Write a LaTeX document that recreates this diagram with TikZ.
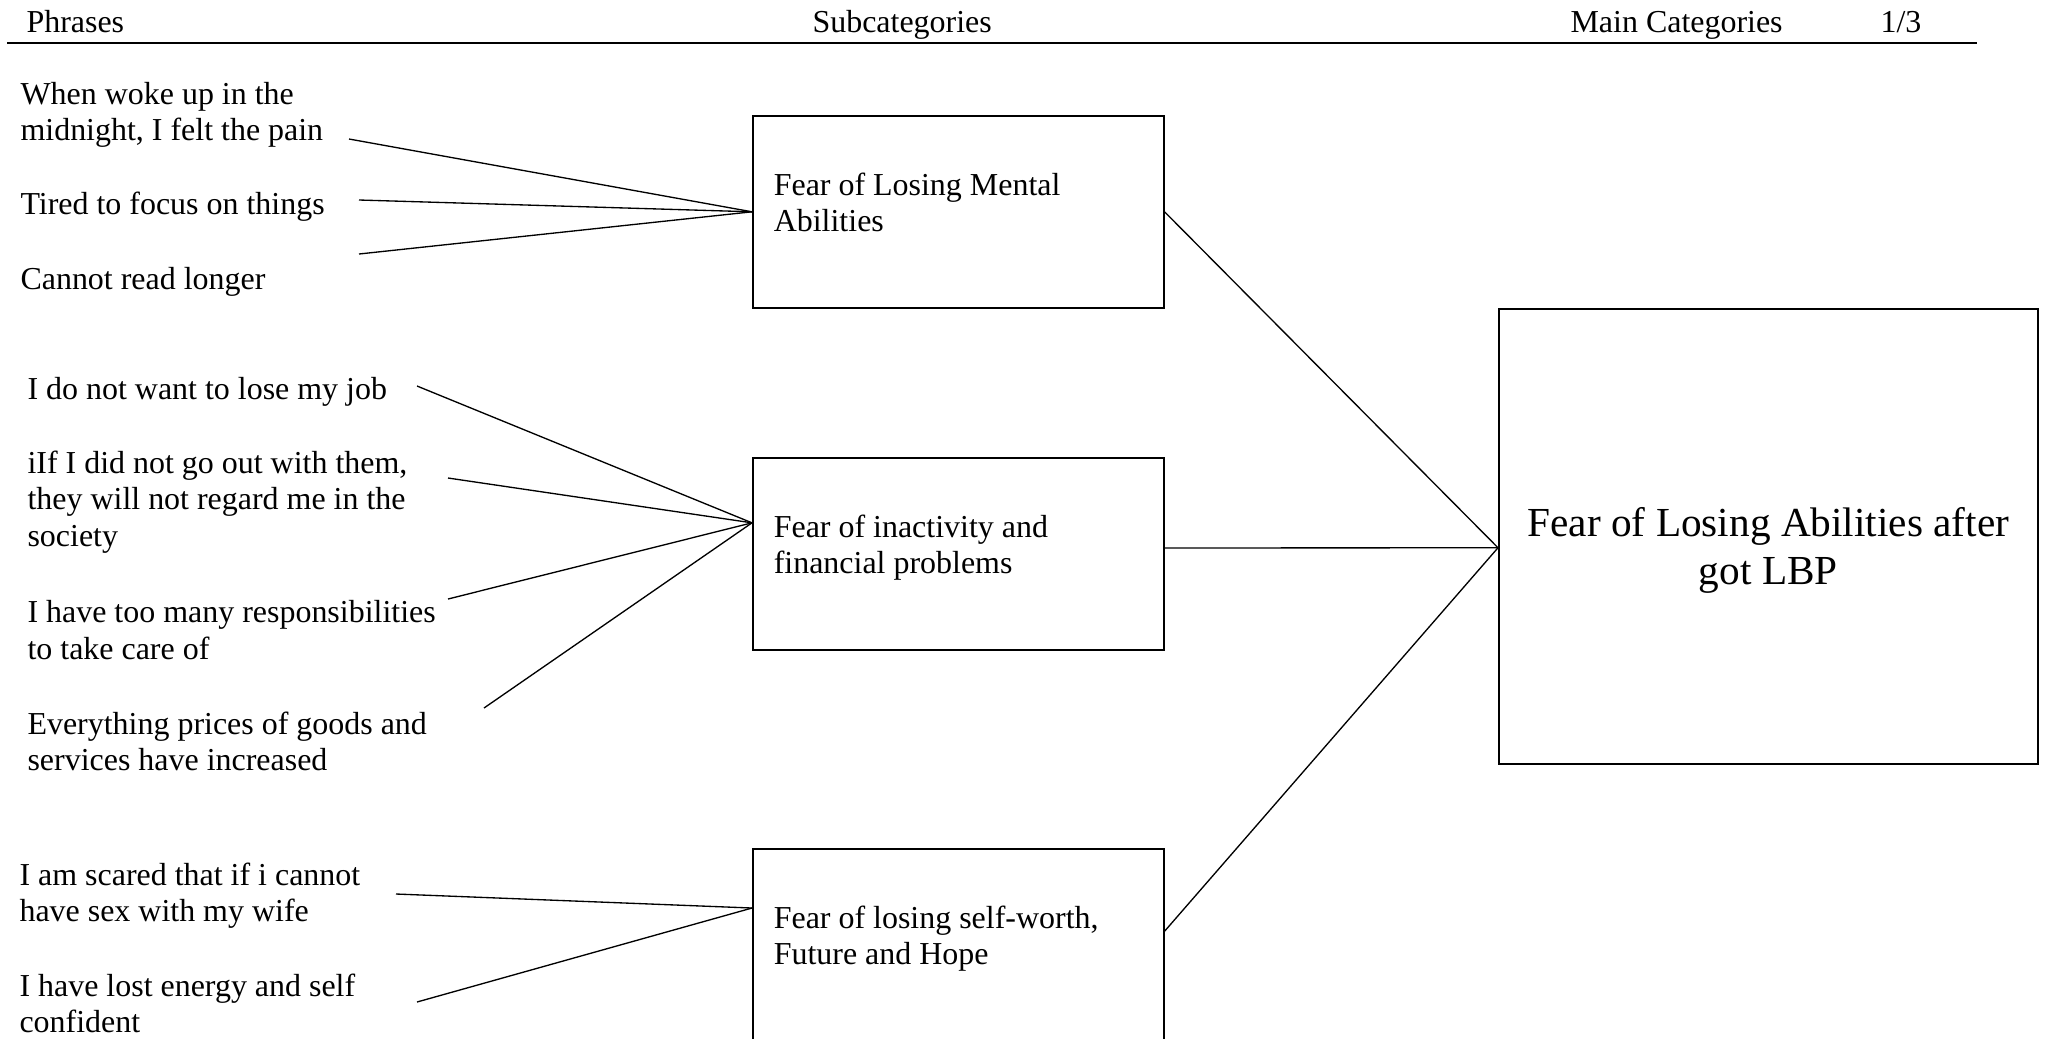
\documentclass[tikz,border=0pt]{standalone}
\usepackage{fontspec}
\setmainfont{Liberation Serif}
\usepackage{tikz}
\usetikzlibrary{positioning}
\usetikzlibrary{calc}
\hyphenpenalty=10000
\exhyphenpenalty=10000
\tikzstyle{heading}=[anchor=base west, inner sep=0pt,
  font=\fontsize{12}{13.6}\selectfont]
\tikzstyle{phrase}=[anchor=west, align=left, inner sep=0pt,
  font=\fontsize{12}{13.6}\selectfont]
\tikzstyle{subcat}=[rectangle, draw, line width=0.6pt, anchor=north west,
  text width=4.87cm, inner xsep=0.277cm, minimum height=2.534cm,
  text depth=21pt, align=flush left, font=\fontsize{12}{13.6}\selectfont]
\tikzstyle{maincat}=[rectangle, draw, line width=0.6pt, anchor=north west,
  minimum width=7.115cm, minimum height=6.006cm]
\tikzstyle{maintext}=[inner sep=0pt, align=center,
  font=\fontsize{15.5}{17.8}\selectfont]
\tikzstyle{link}=[line width=0.5pt]
\tikzstyle{rule}=[line width=0.7pt]

\begin{document}
\begin{tikzpicture}[x=0.0132cm, y=-0.0132cm]
\useasboundingbox (0,0) rectangle (2049,1038);

\node[heading] at (26,32) (hphr) {Phrases};
\node[heading] at (812,32) (hsub) {Subcategories};
\node[heading] at (1570,32) (hmain) {Main Categories};
\node[heading] at (1880,32) (hpage) {1/3};
\draw[rule] (7,43) -- (1977,43);

\node[subcat] at (752,115) (mental) {Fear of Losing Mental Abilities};
\node[subcat] at (752,457) (inactive) {Fear of inactivity and financial problems};
\node[subcat] at (752,848) (selfworth) {Fear of losing self-worth, Future and Hope};
\node[maincat] at (1498,308) (losing) {};
\node[maintext] at ($(losing.center)+(0,14)$) (losingtext) {Fear of Losing Abilities after\\got LBP};

\node[phrase] at (20,115) (woke) {When woke up in the\\midnight, I felt the pain};
\node[phrase] at (20,207) (tired) {Tired to focus on things};
\node[phrase] at (20,282) (cannot) {Cannot read longer};
\node[phrase] at (27,392) (job) {I do not want to lose my job};
\node[phrase] at (27,502) (goout) {iIf I did not go out with them,\\they will not regard me in the\\society};
\node[phrase] at (27,630) (resp) {I have too many responsibilities\\to take care of};
\node[phrase] at (27,741) (prices) {Everything prices of goods and\\services have increased};
\node[phrase] at (19,896) (scared) {I am scared that if i cannot\\have sex with my wife};
\node[phrase] at (19,1003) (energy) {I have lost energy and self\\confident};

\coordinate (woke-e) at (349,139);
\coordinate (tired-e) at (359,200);
\coordinate (cannot-e) at (359,254);
\coordinate (job-e) at (417,386);
\coordinate (goout-e) at (448,478);
\coordinate (resp-e) at (448,599);
\coordinate (prices-e) at (484,708);
\coordinate (scared-e) at (396,894);
\coordinate (energy-e) at (417,1002);

\coordinate (inactive-w) at ($(inactive.north west)!0.34!(inactive.south west)$);
\coordinate (selfworth-w) at ($(selfworth.north west)!0.31!(selfworth.south west)$);
\coordinate (inactive-e) at ($(inactive.north east)!0.47!(inactive.south east)$);
\coordinate (selfworth-e) at ($(selfworth.north east)!0.43!(selfworth.south east)$);
\coordinate (losing-w) at ($(losing.north west)!0.525!(losing.south west)$);

\draw[link] (woke-e) -- (mental.west);
\draw[link] (tired-e) -- (mental.west);
\draw[link] (cannot-e) -- (mental.west);
\draw[link] (job-e) -- (inactive-w);
\draw[link] (goout-e) -- (inactive-w);
\draw[link] (resp-e) -- (inactive-w);
\draw[link] (prices-e) -- (inactive-w);
\draw[link] (scared-e) -- (selfworth-w);
\draw[link] (energy-e) -- (selfworth-w);

\draw[link] (mental.east) -- (losing-w);
\draw[link] (inactive-e) -- (losing-w);
\draw[link] (selfworth-e) -- (losing-w);

\end{tikzpicture}
\end{document}
